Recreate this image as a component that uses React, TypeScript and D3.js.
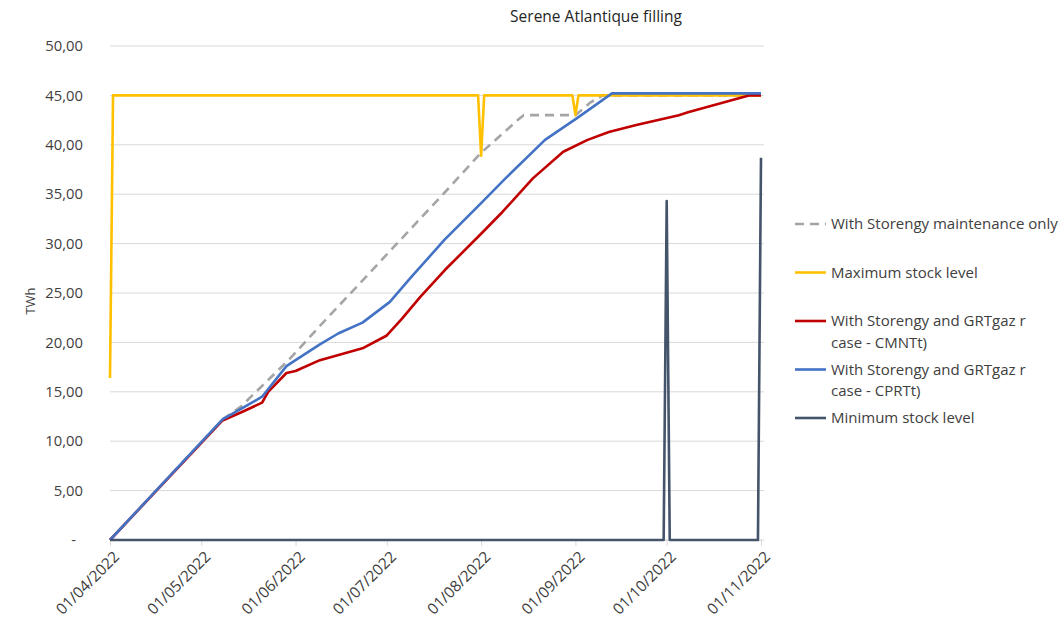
//@ts-nocheck
import React, { useRef, useEffect } from 'react'
import * as d3 from 'd3'

const monthTicks = ['01/04/2022', '01/05/2022', '01/06/2022', '01/07/2022', '01/08/2022', '01/09/2022', '01/10/2022', '01/11/2022']
const yTicks = [0, 5, 10, 15, 20, 25, 30, 35, 40, 45, 50]

// values, TWh
const maintenanceOnly: [string, number][] = [
  ['01/04/2022', 0],
  ['08/05/2022', 12.2],
  ['14/05/2022', 13.5],
  ['30/05/2022', 18.3],
  ['10/06/2022', 22.0],
  ['21/06/2022', 25.6],
  ['01/07/2022', 28.9],
  ['21/07/2022', 35.5],
  ['01/08/2022', 39.2],
  ['13/08/2022', 42.5],
  ['15/08/2022', 43.0],
  ['01/09/2022', 43.0],
  ['06/09/2022', 44.3],
  ['10/09/2022', 45.0],
  ['01/11/2022', 45.0]
]

const maximumStock: [string, number][] = [
  ['01/04/2022', 16.4],
  ['02/04/2022', 45],
  ['31/07/2022', 45],
  ['01/08/2022', 38.9],
  ['02/08/2022', 45],
  ['31/08/2022', 45],
  ['01/09/2022', 43.0],
  ['02/09/2022', 45],
  ['01/11/2022', 45]
]

const cmntCase: [string, number][] = [
  ['01/04/2022', 0],
  ['08/05/2022', 12.1],
  ['14/05/2022', 12.9],
  ['21/05/2022', 13.9],
  ['23/05/2022', 15.0],
  ['29/05/2022', 16.9],
  ['01/06/2022', 17.1],
  ['09/06/2022', 18.2],
  ['23/06/2022', 19.4],
  ['01/07/2022', 20.7],
  ['06/07/2022', 22.4],
  ['12/07/2022', 24.6],
  ['20/07/2022', 27.3],
  ['01/08/2022', 31.0],
  ['08/08/2022', 33.2],
  ['18/08/2022', 36.6],
  ['28/08/2022', 39.3],
  ['05/09/2022', 40.5],
  ['12/09/2022', 41.3],
  ['21/09/2022', 42.0],
  ['05/10/2022', 43.0],
  ['08/10/2022', 43.3],
  ['28/10/2022', 45.0],
  ['01/11/2022', 45.0]
]

const cprtCase: [string, number][] = [
  ['01/04/2022', 0],
  ['08/05/2022', 12.2],
  ['21/05/2022', 14.5],
  ['29/05/2022', 17.6],
  ['01/06/2022', 18.2],
  ['09/06/2022', 19.8],
  ['15/06/2022', 20.9],
  ['23/06/2022', 22.0],
  ['02/07/2022', 24.1],
  ['09/07/2022', 26.6],
  ['20/07/2022', 30.4],
  ['01/08/2022', 34.1],
  ['09/08/2022', 36.6],
  ['22/08/2022', 40.5],
  ['02/09/2022', 42.8],
  ['13/09/2022', 45.2],
  ['01/11/2022', 45.2]
]

const minimumStock: [string, number][] = [
  ['01/04/2022', 0],
  ['30/09/2022', 0],
  ['01/10/2022', 34.3],
  ['02/10/2022', 0],
  ['31/10/2022', 0],
  ['01/11/2022', 38.7]
]

const series = [
  { key: 'maintenance', data: maintenanceOnly, color: '#A5A5A5', dash: '9,6', label: ['With Storengy maintenance only'] },
  { key: 'max', data: maximumStock, color: '#FFC000', dash: null, label: ['Maximum stock level'] },
  { key: 'cmnt', data: cmntCase, color: '#C00000', dash: null, label: ['With Storengy and GRTgaz r', 'case - CMNTt)'] },
  { key: 'cprt', data: cprtCase, color: '#4472C4', dash: null, label: ['With Storengy and GRTgaz r', 'case - CPRTt)'] },
  { key: 'min', data: minimumStock, color: '#44546A', dash: null, label: ['Minimum stock level'] }
]

const FONT = "'Open Sans', sans-serif"

const FillingChart = ({ width = 1060, height = 623 }) => {
  const node = useRef<SVGSVGElement | null>(null)

  useEffect(() => {
    const parse = d3.timeParse('%d/%m/%Y')
    const fmt = d3.timeFormat('%d/%m/%Y')
    const numFmt = (v) => (v === 0 ? '-' : d3.format('.2f')(v).replace('.', ','))

    const svg = d3.select(node.current)
    svg.selectAll('*').remove()
    svg.attr('width', width).attr('height', height)

    const margin = { top: 46, right: 299, bottom: 83, left: 110 }

    const x = d3
      .scaleTime()
      .domain([parse(monthTicks[0]), parse(monthTicks[monthTicks.length - 1])])
      .range([margin.left, width - margin.right])

    const y = d3
      .scaleLinear()
      .domain([0, 50])
      .range([height - margin.bottom, margin.top])

    // grid
    svg
      .append('g')
      .selectAll('line')
      .data(yTicks)
      .join('line')
      .attr('x1', x.range()[0])
      .attr('x2', x.range()[1] + 3)
      .attr('y1', (d) => y(d))
      .attr('y2', (d) => y(d))
      .attr('stroke', '#D9D9D9')
      .attr('stroke-width', 1)

    // y axis labels
    const yAxis = (g) =>
      g
        .attr('transform', `translate(${margin.left - 27},0)`)
        .call(d3.axisLeft(y).tickValues(yTicks).tickFormat(numFmt).tickSize(0))
        .call((g) => g.select('.domain').remove())
        .call((g) =>
          g
            .selectAll('text')
            .attr('font-family', FONT)
            .attr('font-size', 14.8)
            .attr('fill', '#404040')
            .attr('x', (d) => (d === 0 ? -7 : 0))
        )
    svg.append('g').call(yAxis)

    // x axis
    const xAxis = (g) =>
      g
        .attr('transform', `translate(0,${y(0)})`)
        .call(
          d3
            .axisBottom(x)
            .tickValues(monthTicks.map(parse))
            .tickFormat(fmt)
            .tickSize(6)
            .tickSizeOuter(0)
        )
        .call((g) => g.select('.domain').attr('stroke', '#D9D9D9'))
        .call((g) => g.selectAll('.tick line').attr('stroke', '#D9D9D9'))
        .call((g) =>
          g
            .selectAll('.tick text')
            .attr('font-family', FONT)
            .attr('font-size', 15.4)
            .attr('fill', '#404040')
            .attr('text-anchor', 'end')
            .attr('dy', '0.35em')
            .attr('y', 0)
            .attr('transform', 'translate(6,14) rotate(-45)')
        )
    svg.append('g').call(xAxis)

    const line = d3
      .line()
      .x((d) => x(parse(d[0])))
      .y((d) => y(d[1]))

    svg
      .append('g')
      .selectAll('path')
      .data(series)
      .join('path')
      .attr('d', (s) => line(s.data))
      .attr('fill', 'none')
      .attr('stroke', (s) => s.color)
      .attr('stroke-width', 2.6)
      .attr('stroke-dasharray', (s) => s.dash)
      .attr('stroke-linejoin', 'round')

    // title
    svg
      .append('text')
      .attr('x', 596)
      .attr('y', 17)
      .attr('dy', '0.35em')
      .attr('text-anchor', 'middle')
      .attr('font-family', FONT)
      .attr('font-size', 15.5)
      .attr('fill', '#262626')
      .text('Serene Atlantique filling')

    // y title
    svg
      .append('text')
      .attr('transform', `translate(30,${(y(0) + y(50)) / 2 + 8}) rotate(-90)`)
      .attr('dy', '0.35em')
      .attr('text-anchor', 'middle')
      .attr('font-family', FONT)
      .attr('font-size', 13)
      .attr('fill', '#404040')
      .text('TWh')

    // legend
    const legendRows = [224, 272.5, 321, 369.5, 418]
    const legend = svg
      .append('g')
      .selectAll('g')
      .data(series)
      .join('g')
      .attr('transform', (s, i) => `translate(795,${legendRows[i]})`)

    legend
      .append('line')
      .attr('x1', 0)
      .attr('x2', 31)
      .attr('stroke', (s) => s.color)
      .attr('stroke-width', 2.6)
      .attr('stroke-dasharray', (s) => (s.dash ? '9,6' : null))

    legend
      .append('text')
      .attr('font-family', FONT)
      .attr('font-size', 15)
      .attr('fill', '#404040')
      .selectAll('tspan')
      .data((s) => s.label)
      .join('tspan')
      .attr('x', 36)
      .attr('y', (d, i) => i * 21.5)
      .attr('dy', '0.35em')
      .text((d) => d)
  }, [node, width, height])

  return <svg ref={node} style={{ position: 'absolute', left: 0, top: 0, display: 'block' }}></svg>
}

export default function App() {
  return <FillingChart />
}
